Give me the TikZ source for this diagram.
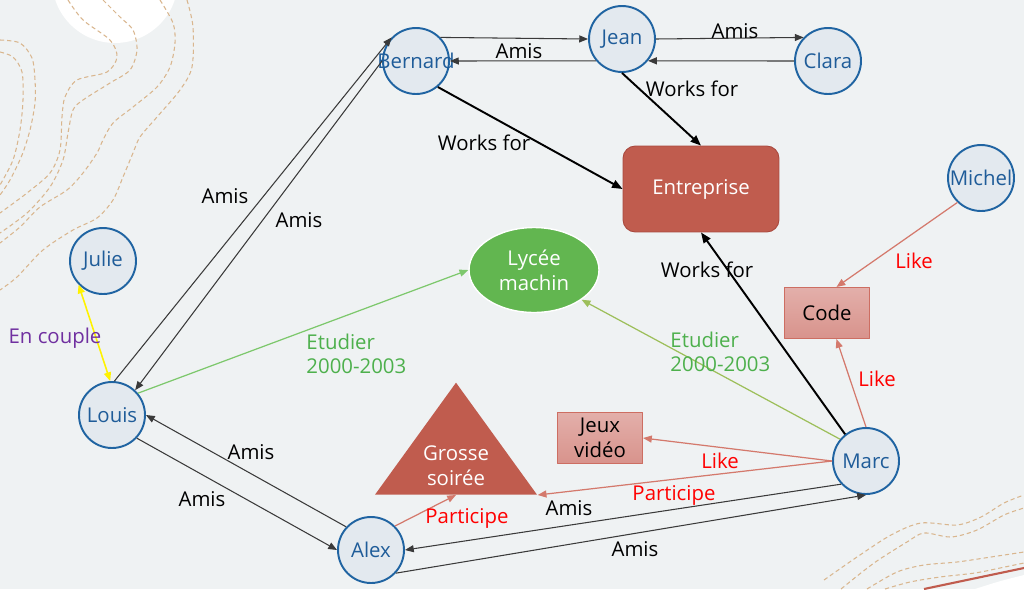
\documentclass[tikz,border=0pt]{standalone}
\usepackage{fontspec}
\setmainfont{Open Sans}
\usepackage{tikz}
\usetikzlibrary{arrows.meta, positioning, shapes.geometric, calc}
\definecolor{bgpaper}{HTML}{EFF2F3}
\definecolor{pblue}{HTML}{2064A2}
\definecolor{pname}{HTML}{1F5C99}
\definecolor{pfill}{HTML}{E3E9EF}
\definecolor{firm}{HTML}{C05C4E}
\definecolor{firmline}{HTML}{A94A3F}
\definecolor{school}{HTML}{62B650}
\definecolor{hobbytop}{HTML}{E3AFAA}
\definecolor{hobbybot}{HTML}{D8938C}
\definecolor{hobbyline}{HTML}{CD6E62}
\definecolor{likeline}{HTML}{D4796C}
\definecolor{studytext}{HTML}{4DB04C}
\definecolor{studyA}{HTML}{7DC86C}
\definecolor{studyB}{HTML}{9DBF5A}
\definecolor{couple}{HTML}{7030A0}
\definecolor{contourtan}{HTML}{D9B68E}
\definecolor{amisgray}{HTML}{3A3A3A}
\newcommand{\who}[1]{\makebox[0pt]{#1}}
\tikzset{
  person/.style={circle, draw=pblue, fill=pfill, line width=1.1pt,
                 minimum size=1.32cm, inner sep=0pt, text=pname},
  firmbox/.style={draw=firmline, fill=firm, rounded corners=7pt, line width=0.5pt,
                  minimum width=3.12cm, minimum height=1.72cm, text=white},
  schoolbox/.style={ellipse, draw=white, fill=school, line width=0.8pt, inner sep=0pt,
                    minimum width=2.6cm, minimum height=1.7cm, text=white, align=center},
  hobbybox/.style={draw=hobbyline, top color=hobbytop, bottom color=hobbybot, line width=0.6pt,
                   minimum width=1.7cm, minimum height=1.02cm, inner sep=0pt, align=center},
  partytri/.style={isosceles triangle, shape border rotate=90, isosceles triangle stretches,
                   fill=firm, minimum width=3.24cm, minimum height=2.24cm, inner sep=0pt},
  partytxt/.style={text=white, align=center},
  amis/.style={-{Triangle[length=5pt,width=4pt]}, amisgray, line width=0.6pt},
  works/.style={-{Triangle[length=6pt,width=4.6pt]}, black, line width=1.1pt},
  like/.style={-{Triangle[length=5pt,width=4pt]}, likeline, line width=0.7pt},
  study/.style={-{Triangle[length=5pt,width=4pt]}, line width=0.7pt},
  lbl/.style={text=black},
  redlbl/.style={text=red},
  studylbl/.style={text=studytext, align=left},
  contourline/.style={contourtan, dash pattern=on 2.4pt off 1.7pt, line width=0.6pt},
}
\begin{document}
\begin{tikzpicture}[x=0.02cm, y=-0.02cm, line join=round,
  every node/.style={font=\fontsize{11.6}{14}\selectfont}]
  \useasboundingbox (0,0) rectangle (1024,589);

  %% ── Background ──
  \fill[bgpaper] (0,0) rectangle (1024,589);
  \fill[white] (115,-20) circle (1.26cm);
  % contour lines, top left
  \draw[contourline] plot[smooth] coordinates {(0,40) (20,43) (32,58) (35,80) (35,103) (30,130) (22,155) (10,180) (0,195)};
  \draw[contourline] plot[smooth] coordinates {(0,52) (13,57) (22,72) (23,100) (20,130) (13,160) (0,185)};
  \draw[contourline] plot[smooth] coordinates {(68,0) (83,20) (110,40) (117,57) (107,72) (77,80) (65,97) (62,117) (60,150) (50,173) (27,193) (0,213)};
  \draw[contourline] plot[smooth] coordinates {(103,0) (120,17) (133,30) (137,50) (130,70) (110,83) (83,100) (73,110) (68,133) (63,160) (50,187) (27,213) (0,233)};
  \draw[contourline] plot[smooth] coordinates {(160,0) (173,23) (175,43) (170,67) (157,87) (133,107) (113,123) (103,140) (97,153) (83,173) (67,190) (40,207) (20,227) (0,243)};
  \draw[contourline] plot[smooth] coordinates {(187,0) (193,27) (192,67) (180,90) (157,117) (140,137) (133,153) (123,177) (113,200) (97,218) (73,230) (43,250) (17,277) (0,290)};
  % contour lines, bottom right
  \draw[contourline] plot[smooth] coordinates {(824,580) (857,557) (891,535) (921,523) (957,525) (981,517) (1004,503) (1024,495)};
  \draw[contourline] plot[smooth] coordinates {(841,589) (874,563) (907,542) (924,533) (951,537) (977,530) (1004,515) (1024,508)};
  \draw[contourline] plot[smooth] coordinates {(867,589) (897,572) (924,565) (957,562) (991,557) (1024,552)};
  \draw[contourline] plot[smooth] coordinates {(885,589) (910,582) (940,577) (975,573) (1000,568) (1024,563)};
  \fill[white] (975,589) .. controls (1000,581) .. (1024,575) -- (1024,589) -- cycle;
  \draw[firm, line width=1.2pt] (924,589) -- (1024,568);

  %% ── People ──
  \node[person] (bernard) at (416,61) {\who{Bernard}};
  \node[person] (jean) at (622,39) {\who{Jean}};
  \node[person] (clara) at (828,61) {\who{Clara}};
  \node[person] (michel) at (981,178) {\who{Michel}};
  \node[person] (julie) at (103,261) {\who{Julie}};
  \node[person] (louis) at (112,415) {\who{Louis}};
  \node[person] (alex) at (371,550) {\who{Alex}};
  \node[person] (marc) at (866,461) {\who{Marc}};

  %% ── Places and things ──
  \node[firmbox] (firm) at (701,189) {Entreprise};
  \node[schoolbox] (lycee) at (534,270) {Lycée\\machin};
  \node[hobbybox] (code) at (827,313) {Code};
  \node[hobbybox] (jeux) at (600,438) {Jeux\\vidéo};
  \node[partytri, anchor=lower side] (soiree) at (456,495) {};
  \node[partytxt] (soireetxt) at (456,466) {Grosse\\soirée};

  %% ── Amis ──
  \draw[amis] (bernard.44) -- (jean.180);
  \draw[amis] (jean.220) -- (bernard.0) node[lbl] at (519,51) {Amis};
  \draw[amis] (jean.0) -- (clara.136) node[lbl] at (735,31) {Amis};
  \draw[amis] (clara.180) -- (jean.320);
  \draw[amis] (louis.86) -- (bernard.136) node[lbl] at (225,196) {Amis};
  \draw[amis] (bernard.180) -- (louis.47) node[lbl] at (299,220) {Amis};
  \draw[amis] (alex.137) -- (louis.east) node[lbl] at (251,452) {Amis};
  \draw[amis] (louis.-43) -- (alex.west) node[lbl] at (202,499) {Amis};
  \draw[amis] (marc.223) -- (alex.east) node[lbl] at (569,508) {Amis};
  \draw[amis] (alex.-43) -- (marc.south) node[lbl] at (635,549) {Amis};

  %% ── Works for ──
  \draw[works] (bernard.-50) -- (firm.west) node[lbl] at (484,143) {Works for};
  \draw[works] (jean.south) -- (firm.north) node[lbl] at (692,89) {Works for};
  \draw[works] (marc.128) -- (firm.south) node[lbl] at (707,270) {Works for};

  %% ── Couple ──
  \draw[{Triangle[length=5pt,width=4pt]}-{Triangle[length=5pt,width=4pt]}, yellow, line width=0.9pt]
    (julie.224) -- (louis.93) node[text=couple] at (55,338) {En couple};

  %% ── Etudier ──
  \draw[study, studyA] (louis.40) -- (lycee.west)
    node[studylbl, anchor=west] at (300,354) {Etudier\\2000-2003};
  \draw[study, studyB] (marc.140) -- (lycee.-32)
    node[studylbl, anchor=west] at (664,352) {Etudier\\2000-2003};

  %% ── Like / Participe ──
  \draw[like] (michel.226) -- (code.70) node[redlbl] at (914,261) {Like};
  \draw[like] (marc.north) -- (code.-70) node[redlbl] at (877,379) {Like};
  \draw[like] (marc.west) -- (jeux.east) node[redlbl] at (720,461) {Like};
  \draw[like] (marc.west) -- (soiree.right corner) node[redlbl] at (674,495) {Participe};
  \draw[like] (alex.45) -- (soiree.lower side) node[redlbl] at (467,518) {Participe};
\end{tikzpicture}
\end{document}
